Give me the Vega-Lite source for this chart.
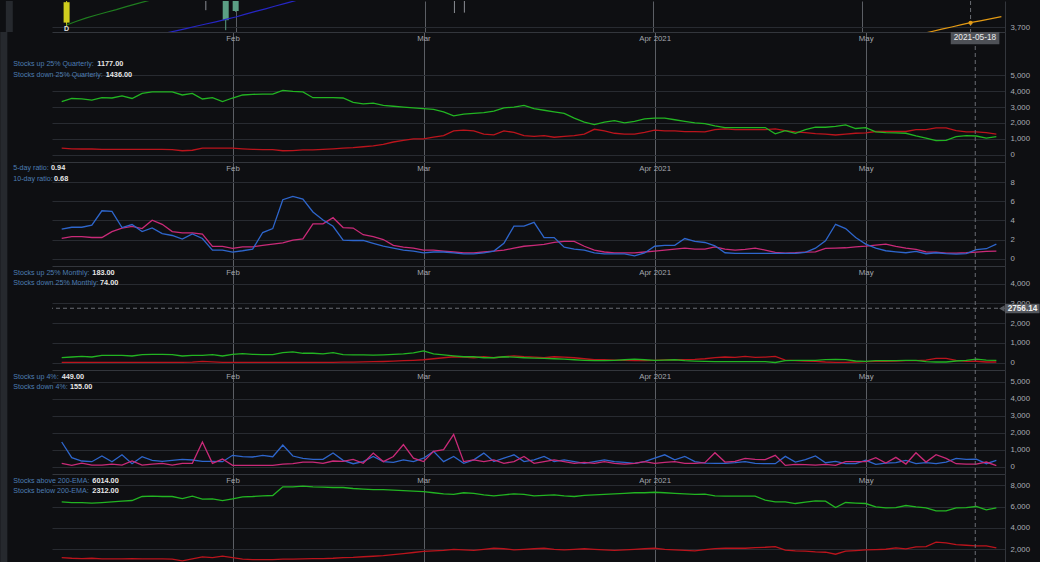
{
"$schema":"https://vega.github.io/schema/vega-lite/v6.json",
"background":"#0e0f12",
"padding":0,
"spacing":0,
"bounds":"flush",
"config":{"view":{"stroke":null},"font":"Liberation Sans","axis":{"labelOverlap":false,"labelBound":false}},
"datasets":{
"candles":[{"i":0,"o":3711,"c":3762,"l":3702,"h":3800,"k":"y"},{"i":14,"o":3770,"c":3790,"l":3742,"h":3800,"k":"g"},{"i":16,"o":3717,"c":3800,"l":3692,"h":3810,"k":"t"},{"i":17,"o":3740,"c":3800,"l":3738,"h":3810,"k":"t"},{"i":39,"o":3770,"c":3790,"l":3735,"h":3800,"k":"g"},{"i":40,"o":3770,"c":3790,"l":3736,"h":3800,"k":"g"}],
"q":[{"i":0,"a":3340,"b":420},{"i":1,"a":3540,"b":370},{"i":2,"a":3510,"b":360},{"i":3,"a":3440,"b":360},{"i":4,"a":3590,"b":340},{"i":5,"a":3570,"b":330},{"i":6,"a":3700,"b":330},{"i":7,"a":3540,"b":330},{"i":8,"a":3860,"b":330},{"i":9,"a":3950,"b":330},{"i":10,"a":3950,"b":330},{"i":11,"a":3950,"b":320},{"i":12,"a":3760,"b":250},{"i":13,"a":3860,"b":280},{"i":14,"a":3510,"b":410},{"i":15,"a":3590,"b":410},{"i":16,"a":3350,"b":410},{"i":17,"a":3570,"b":410},{"i":18,"a":3760,"b":370},{"i":19,"a":3800,"b":340},{"i":20,"a":3820,"b":320},{"i":21,"a":3820,"b":320},{"i":22,"a":4050,"b":250},{"i":23,"a":3990,"b":260},{"i":24,"a":3950,"b":300},{"i":25,"a":3590,"b":300},{"i":26,"a":3590,"b":330},{"i":27,"a":3590,"b":370},{"i":28,"a":3570,"b":420},{"i":29,"a":3300,"b":450},{"i":30,"a":3200,"b":500},{"i":31,"a":3250,"b":550},{"i":32,"a":3100,"b":650},{"i":33,"a":3050,"b":800},{"i":34,"a":3000,"b":900},{"i":35,"a":2950,"b":1000},{"i":36,"a":2900,"b":1000},{"i":37,"a":2850,"b":1100},{"i":38,"a":2700,"b":1200},{"i":39,"a":2450,"b":1500},{"i":40,"a":2550,"b":1550},{"i":41,"a":2600,"b":1500},{"i":42,"a":2650,"b":1300},{"i":43,"a":2750,"b":1250},{"i":44,"a":2950,"b":1500},{"i":45,"a":3000,"b":1400},{"i":46,"a":3100,"b":1200},{"i":47,"a":2900,"b":1150},{"i":48,"a":2800,"b":1200},{"i":49,"a":2700,"b":1100},{"i":50,"a":2600,"b":1150},{"i":51,"a":2300,"b":1200},{"i":52,"a":2050,"b":1300},{"i":53,"a":1900,"b":1600},{"i":54,"a":2050,"b":1500},{"i":55,"a":2150,"b":1350},{"i":56,"a":2000,"b":1300},{"i":57,"a":2100,"b":1300},{"i":58,"a":2250,"b":1400},{"i":59,"a":2300,"b":1550},{"i":60,"a":2300,"b":1500},{"i":61,"a":2200,"b":1500},{"i":62,"a":2100,"b":1450},{"i":63,"a":2000,"b":1450},{"i":64,"a":1960,"b":1440},{"i":65,"a":1820,"b":1580},{"i":66,"a":1710,"b":1620},{"i":67,"a":1710,"b":1580},{"i":68,"a":1710,"b":1580},{"i":69,"a":1710,"b":1580},{"i":70,"a":1710,"b":1580},{"i":71,"a":1310,"b":1620},{"i":72,"a":1520,"b":1520},{"i":73,"a":1350,"b":1440},{"i":74,"a":1580,"b":1390},{"i":75,"a":1730,"b":1330},{"i":76,"a":1730,"b":1290},{"i":77,"a":1790,"b":1240},{"i":78,"a":1880,"b":1290},{"i":79,"a":1650,"b":1350},{"i":80,"a":1710,"b":1370},{"i":81,"a":1440,"b":1460},{"i":82,"a":1390,"b":1460},{"i":83,"a":1370,"b":1460},{"i":84,"a":1350,"b":1460},{"i":85,"a":1180,"b":1580},{"i":86,"a":1040,"b":1580},{"i":87,"a":890,"b":1690},{"i":88,"a":900,"b":1690},{"i":89,"a":1140,"b":1520},{"i":90,"a":1200,"b":1440},{"i":91,"a":1177,"b":1436},{"i":92,"a":1050,"b":1390},{"i":93,"a":1140,"b":1300}],
"r":[{"i":0,"a":3.08,"b":2.11},{"i":1,"a":3.28,"b":2.31},{"i":2,"a":3.28,"b":2.31},{"i":3,"a":3.49,"b":2.21},{"i":4,"a":5.0,"b":2.21},{"i":5,"a":4.94,"b":2.83},{"i":6,"a":3.25,"b":3.18},{"i":7,"a":3.56,"b":3.38},{"i":8,"a":2.83,"b":3.14},{"i":9,"a":3.21,"b":4.01},{"i":10,"a":2.62,"b":3.59},{"i":11,"a":2.42,"b":2.83},{"i":12,"a":2.04,"b":2.69},{"i":13,"a":2.59,"b":2.69},{"i":14,"a":2.11,"b":2.56},{"i":15,"a":0.9,"b":1.28},{"i":16,"a":0.9,"b":1.28},{"i":17,"a":0.69,"b":1.07},{"i":18,"a":0.83,"b":1.24},{"i":19,"a":1.0,"b":1.24},{"i":20,"a":2.73,"b":1.38},{"i":21,"a":3.14,"b":1.52},{"i":22,"a":6.15,"b":1.66},{"i":23,"a":6.5,"b":1.93},{"i":24,"a":6.22,"b":2.07},{"i":25,"a":4.87,"b":3.63},{"i":26,"a":4.04,"b":3.63},{"i":27,"a":3.38,"b":4.28},{"i":28,"a":1.93,"b":3.25},{"i":29,"a":1.9,"b":3.2},{"i":30,"a":1.9,"b":2.5},{"i":31,"a":1.6,"b":2.3},{"i":32,"a":1.3,"b":2.0},{"i":33,"a":1.1,"b":1.4},{"i":34,"a":0.9,"b":1.2},{"i":35,"a":0.8,"b":1.1},{"i":36,"a":0.6,"b":0.9},{"i":37,"a":0.7,"b":0.9},{"i":38,"a":0.7,"b":0.8},{"i":39,"a":0.6,"b":0.7},{"i":40,"a":0.5,"b":0.6},{"i":41,"a":0.5,"b":0.6},{"i":42,"a":0.6,"b":0.7},{"i":43,"a":0.8,"b":0.8},{"i":44,"a":1.6,"b":0.9},{"i":45,"a":3.4,"b":1.1},{"i":46,"a":3.4,"b":1.3},{"i":47,"a":3.8,"b":1.4},{"i":48,"a":2.2,"b":1.5},{"i":49,"a":2.2,"b":1.7},{"i":50,"a":1.2,"b":1.8},{"i":51,"a":1.0,"b":1.8},{"i":52,"a":0.9,"b":1.3},{"i":53,"a":0.6,"b":0.9},{"i":54,"a":0.5,"b":0.7},{"i":55,"a":0.5,"b":0.6},{"i":56,"a":0.5,"b":0.6},{"i":57,"a":0.3,"b":0.6},{"i":58,"a":0.6,"b":0.7},{"i":59,"a":1.3,"b":0.8},{"i":60,"a":1.4,"b":0.9},{"i":61,"a":1.4,"b":1.0},{"i":62,"a":2.1,"b":1.1},{"i":63,"a":1.8,"b":1.0},{"i":64,"a":1.69,"b":1.0},{"i":65,"a":1.35,"b":1.24},{"i":66,"a":0.62,"b":1.0},{"i":67,"a":0.55,"b":0.9},{"i":68,"a":0.55,"b":0.97},{"i":69,"a":0.55,"b":1.1},{"i":70,"a":0.55,"b":0.9},{"i":71,"a":0.55,"b":0.66},{"i":72,"a":0.55,"b":0.59},{"i":73,"a":0.55,"b":0.62},{"i":74,"a":0.66,"b":0.69},{"i":75,"a":1.1,"b":0.72},{"i":76,"a":1.87,"b":1.07},{"i":77,"a":3.59,"b":1.1},{"i":78,"a":3.14,"b":1.14},{"i":79,"a":2.21,"b":1.24},{"i":80,"a":1.52,"b":1.31},{"i":81,"a":1.1,"b":1.42},{"i":82,"a":0.83,"b":1.52},{"i":83,"a":0.72,"b":1.28},{"i":84,"a":0.62,"b":1.1},{"i":85,"a":0.76,"b":0.97},{"i":86,"a":0.52,"b":0.72},{"i":87,"a":0.62,"b":0.69},{"i":88,"a":0.52,"b":0.59},{"i":89,"a":0.48,"b":0.59},{"i":90,"a":0.52,"b":0.62},{"i":91,"a":0.94,"b":0.68},{"i":92,"a":1.04,"b":0.76},{"i":93,"a":1.52,"b":0.8}],
"m":[{"i":0,"a":254,"b":20},{"i":1,"a":288,"b":20},{"i":2,"a":322,"b":20},{"i":3,"a":288,"b":20},{"i":4,"a":375,"b":20},{"i":5,"a":375,"b":20},{"i":6,"a":375,"b":20},{"i":7,"a":339,"b":20},{"i":8,"a":409,"b":20},{"i":9,"a":426,"b":20},{"i":10,"a":426,"b":20},{"i":11,"a":409,"b":20},{"i":12,"a":339,"b":20},{"i":13,"a":375,"b":30},{"i":14,"a":375,"b":70},{"i":15,"a":409,"b":40},{"i":16,"a":339,"b":20},{"i":17,"a":426,"b":20},{"i":18,"a":460,"b":20},{"i":19,"a":426,"b":20},{"i":20,"a":409,"b":20},{"i":21,"a":409,"b":20},{"i":22,"a":510,"b":20},{"i":23,"a":543,"b":20},{"i":24,"a":477,"b":20},{"i":25,"a":477,"b":20},{"i":26,"a":443,"b":20},{"i":27,"a":510,"b":20},{"i":28,"a":409,"b":25},{"i":29,"a":400,"b":30},{"i":30,"a":400,"b":40},{"i":31,"a":380,"b":50},{"i":32,"a":400,"b":60},{"i":33,"a":420,"b":80},{"i":34,"a":450,"b":100},{"i":35,"a":500,"b":120},{"i":36,"a":600,"b":150},{"i":37,"a":450,"b":200},{"i":38,"a":400,"b":250},{"i":39,"a":350,"b":300},{"i":40,"a":300,"b":280},{"i":41,"a":300,"b":250},{"i":42,"a":250,"b":300},{"i":43,"a":250,"b":250},{"i":44,"a":300,"b":300},{"i":45,"a":280,"b":350},{"i":46,"a":250,"b":300},{"i":47,"a":230,"b":280},{"i":48,"a":220,"b":250},{"i":49,"a":200,"b":300},{"i":50,"a":180,"b":280},{"i":51,"a":150,"b":250},{"i":52,"a":120,"b":200},{"i":53,"a":100,"b":150},{"i":54,"a":100,"b":150},{"i":55,"a":120,"b":130},{"i":56,"a":150,"b":120},{"i":57,"a":180,"b":100},{"i":58,"a":150,"b":100},{"i":59,"a":120,"b":120},{"i":60,"a":130,"b":140},{"i":61,"a":150,"b":150},{"i":62,"a":100,"b":160},{"i":63,"a":80,"b":170},{"i":64,"a":68,"b":200},{"i":65,"a":51,"b":260},{"i":66,"a":51,"b":288},{"i":67,"a":51,"b":271},{"i":68,"a":51,"b":322},{"i":69,"a":51,"b":271},{"i":70,"a":51,"b":280},{"i":71,"a":10,"b":322},{"i":72,"a":102,"b":135},{"i":73,"a":118,"b":102},{"i":74,"a":118,"b":85},{"i":75,"a":118,"b":68},{"i":76,"a":152,"b":35},{"i":77,"a":170,"b":17},{"i":78,"a":152,"b":17},{"i":79,"a":85,"b":35},{"i":80,"a":68,"b":51},{"i":81,"a":102,"b":68},{"i":82,"a":102,"b":68},{"i":83,"a":102,"b":85},{"i":84,"a":118,"b":102},{"i":85,"a":118,"b":102},{"i":86,"a":51,"b":135},{"i":87,"a":35,"b":220},{"i":88,"a":35,"b":220},{"i":89,"a":85,"b":118},{"i":90,"a":118,"b":68},{"i":91,"a":183,"b":74},{"i":92,"a":135,"b":35},{"i":93,"a":118,"b":35}],
"f":[{"i":0,"a":1453,"b":196},{"i":1,"a":529,"b":78},{"i":2,"a":335,"b":215},{"i":3,"a":294,"b":98},{"i":4,"a":629,"b":98},{"i":5,"a":294,"b":157},{"i":6,"a":706,"b":98},{"i":7,"a":176,"b":335},{"i":8,"a":588,"b":98},{"i":9,"a":376,"b":157},{"i":10,"a":318,"b":196},{"i":11,"a":376,"b":98},{"i":12,"a":435,"b":196},{"i":13,"a":394,"b":196},{"i":14,"a":318,"b":1453},{"i":15,"a":318,"b":196},{"i":16,"a":294,"b":451},{"i":17,"a":670,"b":78},{"i":18,"a":588,"b":78},{"i":19,"a":570,"b":78},{"i":20,"a":670,"b":78},{"i":21,"a":588,"b":78},{"i":22,"a":1276,"b":157},{"i":23,"a":629,"b":176},{"i":24,"a":494,"b":274},{"i":25,"a":435,"b":274},{"i":26,"a":435,"b":196},{"i":27,"a":806,"b":335},{"i":28,"a":376,"b":318},{"i":29,"a":176,"b":430},{"i":30,"a":300,"b":200},{"i":31,"a":600,"b":800},{"i":32,"a":300,"b":300},{"i":33,"a":250,"b":600},{"i":34,"a":400,"b":1300},{"i":35,"a":300,"b":500},{"i":36,"a":500,"b":300},{"i":37,"a":900,"b":900},{"i":38,"a":300,"b":1000},{"i":39,"a":600,"b":1900},{"i":40,"a":200,"b":300},{"i":41,"a":400,"b":400},{"i":42,"a":800,"b":300},{"i":43,"a":300,"b":400},{"i":44,"a":500,"b":200},{"i":45,"a":700,"b":300},{"i":46,"a":300,"b":600},{"i":47,"a":400,"b":200},{"i":48,"a":600,"b":300},{"i":49,"a":300,"b":400},{"i":50,"a":400,"b":300},{"i":51,"a":300,"b":200},{"i":52,"a":200,"b":250},{"i":53,"a":300,"b":200},{"i":54,"a":400,"b":300},{"i":55,"a":300,"b":200},{"i":56,"a":250,"b":150},{"i":57,"a":200,"b":200},{"i":58,"a":300,"b":300},{"i":59,"a":500,"b":200},{"i":60,"a":700,"b":250},{"i":61,"a":400,"b":300},{"i":62,"a":600,"b":200},{"i":63,"a":300,"b":200},{"i":64,"a":215,"b":235},{"i":65,"a":196,"b":824},{"i":66,"a":196,"b":274},{"i":67,"a":235,"b":318},{"i":68,"a":294,"b":494},{"i":69,"a":196,"b":435},{"i":70,"a":176,"b":412},{"i":71,"a":176,"b":670},{"i":72,"a":608,"b":78},{"i":73,"a":274,"b":137},{"i":74,"a":412,"b":118},{"i":75,"a":629,"b":98},{"i":76,"a":235,"b":137},{"i":77,"a":318,"b":78},{"i":78,"a":176,"b":294},{"i":79,"a":176,"b":294},{"i":80,"a":376,"b":294},{"i":81,"a":137,"b":529},{"i":82,"a":215,"b":215},{"i":83,"a":235,"b":549},{"i":84,"a":376,"b":157},{"i":85,"a":176,"b":824},{"i":86,"a":235,"b":274},{"i":87,"a":176,"b":706},{"i":88,"a":274,"b":494},{"i":89,"a":494,"b":176},{"i":90,"a":435,"b":157},{"i":91,"a":449,"b":155},{"i":92,"a":176,"b":274},{"i":93,"a":376,"b":59}],
"e":[{"i":0,"a":6451,"b":1221},{"i":1,"a":6385,"b":1160},{"i":2,"a":6385,"b":1127},{"i":3,"a":6329,"b":1160},{"i":4,"a":6385,"b":1099},{"i":5,"a":6451,"b":1099},{"i":6,"a":6517,"b":1099},{"i":7,"a":6573,"b":1127},{"i":8,"a":6949,"b":1099},{"i":9,"a":6986,"b":1099},{"i":10,"a":6949,"b":1099},{"i":11,"a":6949,"b":1070},{"i":12,"a":6761,"b":911},{"i":13,"a":6986,"b":1099},{"i":14,"a":6705,"b":1286},{"i":15,"a":6733,"b":1221},{"i":16,"a":6573,"b":1352},{"i":17,"a":6733,"b":1221},{"i":18,"a":6920,"b":1070},{"i":19,"a":6949,"b":1033},{"i":20,"a":7014,"b":1033},{"i":21,"a":7043,"b":1033},{"i":22,"a":7859,"b":1070},{"i":23,"a":7859,"b":1070},{"i":24,"a":7925,"b":1099},{"i":25,"a":7859,"b":1127},{"i":26,"a":7831,"b":1127},{"i":27,"a":7794,"b":1160},{"i":28,"a":7794,"b":1221},{"i":29,"a":7700,"b":1250},{"i":30,"a":7650,"b":1300},{"i":31,"a":7600,"b":1350},{"i":32,"a":7600,"b":1400},{"i":33,"a":7550,"b":1500},{"i":34,"a":7500,"b":1600},{"i":35,"a":7450,"b":1700},{"i":36,"a":7400,"b":1800},{"i":37,"a":7300,"b":1850},{"i":38,"a":7200,"b":1900},{"i":39,"a":7150,"b":2000},{"i":40,"a":7300,"b":1950},{"i":41,"a":7250,"b":1900},{"i":42,"a":7100,"b":2000},{"i":43,"a":7000,"b":2100},{"i":44,"a":7100,"b":2050},{"i":45,"a":7200,"b":1950},{"i":46,"a":7150,"b":2000},{"i":47,"a":7000,"b":2050},{"i":48,"a":7050,"b":2100},{"i":49,"a":7100,"b":2000},{"i":50,"a":7000,"b":1950},{"i":51,"a":6950,"b":2000},{"i":52,"a":7050,"b":2050},{"i":53,"a":7100,"b":2000},{"i":54,"a":7150,"b":1950},{"i":55,"a":7200,"b":1900},{"i":56,"a":7250,"b":1950},{"i":57,"a":7300,"b":2000},{"i":58,"a":7300,"b":2050},{"i":59,"a":7350,"b":2100},{"i":60,"a":7300,"b":2000},{"i":61,"a":7250,"b":1950},{"i":62,"a":7200,"b":1900},{"i":63,"a":7150,"b":1850},{"i":64,"a":7173,"b":1970},{"i":65,"a":7014,"b":2070},{"i":66,"a":6986,"b":2100},{"i":67,"a":6986,"b":2100},{"i":68,"a":6986,"b":2100},{"i":69,"a":6986,"b":2160},{"i":70,"a":6611,"b":2191},{"i":71,"a":6451,"b":2254},{"i":72,"a":6451,"b":1913},{"i":73,"a":6292,"b":1850},{"i":74,"a":6423,"b":1820},{"i":75,"a":6545,"b":1756},{"i":76,"a":6517,"b":1725},{"i":77,"a":5916,"b":1537},{"i":78,"a":6385,"b":1820},{"i":79,"a":6329,"b":1881},{"i":80,"a":6292,"b":1944},{"i":81,"a":5981,"b":1976},{"i":82,"a":5888,"b":2007},{"i":83,"a":5916,"b":2129},{"i":84,"a":6104,"b":2035},{"i":85,"a":5981,"b":2225},{"i":86,"a":5888,"b":2254},{"i":87,"a":5606,"b":2664},{"i":88,"a":5606,"b":2600},{"i":89,"a":5888,"b":2444},{"i":90,"a":5916,"b":2381},{"i":91,"a":6014,"b":2312},{"i":92,"a":5700,"b":2319},{"i":93,"a":5888,"b":2129}]
},
"vconcat":[
{"width":953,"height":31,
 "layer":[
  {"data":{"values":[{}]},"mark":{"type":"rect","color":"#26292e"},"encoding":{"x":{"datum":-6.11,"type":"quantitative","scale":{"domain":[-0.965,93.86],"nice":false,"zero":false}},"x2":{"datum":-5.41},"y":{"datum":3687.5,"type":"quantitative","scale":{"domain":[3687.5,3765],"nice":false,"zero":false}},"y2":{"datum":3765}}},
  {"data":{"name":"candles"},"mark":{"type":"rule","clip":true,"strokeWidth":1},"encoding":{"x":{"field":"i","type":"quantitative","scale":{"domain":[-0.965,93.86],"nice":false,"zero":false},"axis":{"orient":"top","values":[17,36,59,80],"tickCount":20,"labels":false,"grid":true,"gridColor":"#5b5e64","domain":false,"ticks":false,"title":null}},"y":{"field":"l","type":"quantitative","scale":{"domain":[3687.5,3765],"nice":false,"zero":false},"axis":{"orient":"right","values":[3700],"tickCount":20,"format":",d","grid":true,"gridColor":"#282b31","domain":true,"domainColor":"#33363c","ticks":false,"tickSize":0,"labelPadding":5,"labelOverlap":false,"labelColor":"#a9acb2","labelFontSize":7.8,"title":null}},"y2":{"field":"h"},"color":{"field":"k","type":"nominal","scale":{"domain":["y","g","t"],"range":["#cfcd1e","#8a8d93","#5b9f84"]},"legend":null}}},
  {"data":{"name":"candles"},"mark":{"type":"bar","clip":true,"size":6},"encoding":{"x":{"field":"i","type":"quantitative","scale":{"domain":[-0.965,93.86],"nice":false,"zero":false}},"y":{"field":"o","type":"quantitative","scale":{"domain":[3687.5,3765],"nice":false,"zero":false}},"y2":{"field":"c"},"color":{"field":"k","type":"nominal","scale":{"domain":["y","g","t"],"range":["#cfcd1e","#8a8d93","#5b9f84"]},"legend":null}}},
  {"data":{"values":[{"i":0,"v":3705},{"i":1,"v":3714.5},{"i":2,"v":3722.8},{"i":3,"v":3730},{"i":4,"v":3736.8},{"i":5,"v":3743.5},{"i":6,"v":3751},{"i":7,"v":3757.8},{"i":8,"v":3764.5},{"i":9,"v":3771},{"i":10,"v":3777}]},"mark":{"type":"line","clip":true,"color":"#1f7d1f","strokeWidth":1.2},"encoding":{"x":{"field":"i","type":"quantitative","scale":{"domain":[-0.965,93.86],"nice":false,"zero":false}},"y":{"field":"v","type":"quantitative","scale":{"domain":[3687.5,3765],"nice":false,"zero":false}}}},
  {"data":{"values":[{"i":10,"v":3685},{"i":11,"v":3690.5},{"i":12,"v":3696},{"i":13,"v":3701.8},{"i":14,"v":3707.5},{"i":15,"v":3713},{"i":16,"v":3719},{"i":17,"v":3725},{"i":18,"v":3732},{"i":19,"v":3739},{"i":20,"v":3745.5},{"i":21,"v":3752.5},{"i":22,"v":3759},{"i":23,"v":3766},{"i":24,"v":3773}]},"mark":{"type":"line","clip":true,"color":"#2626c4","strokeWidth":1.2},"encoding":{"x":{"field":"i","type":"quantitative","scale":{"domain":[-0.965,93.86],"nice":false,"zero":false}},"y":{"field":"v","type":"quantitative","scale":{"domain":[3687.5,3765],"nice":false,"zero":false}}}},
  {"data":{"values":[{"i":86,"v":3683},{"i":87,"v":3688.75},{"i":88,"v":3694.5},{"i":89,"v":3700},{"i":90,"v":3706},{"i":91,"v":3711.5},{"i":92,"v":3716},{"i":93,"v":3721},{"i":94,"v":3726}]},"mark":{"type":"line","clip":true,"color":"#e39a14","strokeWidth":1.2},"encoding":{"x":{"field":"i","type":"quantitative","scale":{"domain":[-0.965,93.86],"nice":false,"zero":false}},"y":{"field":"v","type":"quantitative","scale":{"domain":[3687.5,3765],"nice":false,"zero":false}}}},
  {"data":{"values":[{}]},"mark":{"type":"rule","color":"#6b6e74","strokeDash":[4,3],"strokeWidth":1},"encoding":{"x":{"datum":90.9,"type":"quantitative","scale":{"domain":[-0.965,93.86],"nice":false,"zero":false}}}},
  {"data":{"values":[{}]},"mark":{"type":"point","filled":true,"color":"#e39a14","size":18,"opacity":1},"encoding":{"x":{"datum":90.9,"type":"quantitative","scale":{"domain":[-0.965,93.86],"nice":false,"zero":false}},"y":{"datum":3710.5,"type":"quantitative","scale":{"domain":[3687.5,3765],"nice":false,"zero":false}}}},
  {"data":{"values":[{}]},"mark":{"type":"text","text":"D","fontSize":7,"fontWeight":"bold","color":"#e0e0e0","align":"center","baseline":"middle"},"encoding":{"x":{"datum":0,"type":"quantitative","scale":{"domain":[-0.965,93.86],"nice":false,"zero":false}},"y":{"datum":3694,"type":"quantitative","scale":{"domain":[3687.5,3765],"nice":false,"zero":false}}}}
 ]},
{"width":953,"height":130,"data":{"name":"q"},
 "layer":[
  {"data":{"values":[{}]},"mark":{"type":"rect","color":"#26292e"},"encoding":{"x":{"datum":-6.11,"type":"quantitative","scale":{"domain":[-0.965,93.86],"nice":false,"zero":false}},"x2":{"datum":-5.41},"y":{"datum":-460,"type":"quantitative","scale":{"domain":[-460,7727],"nice":false,"zero":false}},"y2":{"datum":7727}}},
  {"mark":{"type":"line","color":"#bb141c","strokeWidth":1.3},"encoding":{"x":{"field":"i","type":"quantitative","scale":{"domain":[-0.965,93.86],"nice":false,"zero":false},"axis":{"orient":"top","values":[17,36,59,80],"tickCount":20,"labelExpr":"datum.value == 17 ? 'Feb' : datum.value == 36 ? 'Mar' : datum.value == 59 ? 'Apr 2021' : 'May'","grid":true,"gridColor":"#5b5e64","domain":true,"domainColor":"#33363c","ticks":false,"tickSize":0,"labelPadding":-6,"labelBaseline":"middle","labelFlush":false,"labelOverlap":false,"labelColor":"#a3a6ac","labelFontSize":7.8,"title":null}},"y":{"field":"b","type":"quantitative","scale":{"domain":[-460,7727],"nice":false,"zero":false},"axis":{"orient":"right","values":[0,1000,2000,3000,4000,5000],"tickCount":20,"format":",d","grid":true,"gridColor":"#282b31","domain":true,"domainColor":"#33363c","ticks":false,"tickSize":0,"labelPadding":5,"labelOverlap":false,"labelColor":"#a9acb2","labelFontSize":7.8,"title":null}}}},
  {"mark":{"type":"line","color":"#22b422","strokeWidth":1.3},"encoding":{"x":{"field":"i","type":"quantitative","scale":{"domain":[-0.965,93.86],"nice":false,"zero":false}},"y":{"field":"a","type":"quantitative","scale":{"domain":[-460,7727],"nice":false,"zero":false}}}},
  {"data":{"values":[{}]},"mark":{"type":"rule","color":"#6b6e74","strokeDash":[4,3],"strokeWidth":1},"encoding":{"x":{"datum":90.9,"type":"quantitative","scale":{"domain":[-0.965,93.86],"nice":false,"zero":false}}}},
  {"data":{"values":[{}]},"mark":{"type":"text","text":"Stocks up 25% Quarterly:","align":"left","baseline":"middle","fontSize":7.1,"color":"#4d7db3"},"encoding":{"x":{"datum":-4.816,"type":"quantitative","scale":{"domain":[-0.965,93.86],"nice":false,"zero":false}},"y":{"datum":5712,"type":"quantitative","scale":{"domain":[-460,7727],"nice":false,"zero":false}}}},
  {"data":{"values":[{}]},"mark":{"type":"text","text":"1177.00","align":"left","baseline":"middle","fontSize":7.3,"fontWeight":"bold","color":"#e6e6e6"},"encoding":{"x":{"datum":3.54,"type":"quantitative","scale":{"domain":[-0.965,93.86],"nice":false,"zero":false}},"y":{"datum":5712,"type":"quantitative","scale":{"domain":[-460,7727],"nice":false,"zero":false}}}},
  {"data":{"values":[{}]},"mark":{"type":"text","text":"Stocks down 25% Quarterly:","align":"left","baseline":"middle","fontSize":7.1,"color":"#4d7db3"},"encoding":{"x":{"datum":-4.816,"type":"quantitative","scale":{"domain":[-0.965,93.86],"nice":false,"zero":false}},"y":{"datum":5019,"type":"quantitative","scale":{"domain":[-460,7727],"nice":false,"zero":false}}}},
  {"data":{"values":[{}]},"mark":{"type":"text","text":"1436.00","align":"left","baseline":"middle","fontSize":7.3,"fontWeight":"bold","color":"#e6e6e6"},"encoding":{"x":{"datum":4.38,"type":"quantitative","scale":{"domain":[-0.965,93.86],"nice":false,"zero":false}},"y":{"datum":5019,"type":"quantitative","scale":{"domain":[-460,7727],"nice":false,"zero":false}}}},
  {"data":{"values":[{}]},"mark":{"type":"rect","color":"#4e5157"},"encoding":{"x":{"datum":88.46,"type":"quantitative","scale":{"domain":[-0.965,93.86],"nice":false,"zero":false}},"x2":{"datum":93.3},"y":{"datum":6952,"type":"quantitative","scale":{"domain":[-460,7727],"nice":false,"zero":false}},"y2":{"datum":7727}}},
  {"data":{"values":[{}]},"mark":{"type":"text","text":"2021-05-18","align":"center","baseline":"middle","fontSize":8.3,"color":"#ececec"},"encoding":{"x":{"datum":90.87,"type":"quantitative","scale":{"domain":[-0.965,93.86],"nice":false,"zero":false}},"y":{"datum":7336,"type":"quantitative","scale":{"domain":[-460,7727],"nice":false,"zero":false}}}}
 ]},
{"width":953,"height":104,"data":{"name":"r"},
 "layer":[
  {"data":{"values":[{}]},"mark":{"type":"rect","color":"#26292e"},"encoding":{"x":{"datum":-6.11,"type":"quantitative","scale":{"domain":[-0.965,93.86],"nice":false,"zero":false}},"x2":{"datum":-5.41},"y":{"datum":-0.761,"type":"quantitative","scale":{"domain":[-0.761,10.086],"nice":false,"zero":false}},"y2":{"datum":10.086}}},
  {"mark":{"type":"line","color":"#c92a78","strokeWidth":1.3},"encoding":{"x":{"field":"i","type":"quantitative","scale":{"domain":[-0.965,93.86],"nice":false,"zero":false},"axis":{"orient":"top","values":[17,36,59,80],"tickCount":20,"labelExpr":"datum.value == 17 ? 'Feb' : datum.value == 36 ? 'Mar' : datum.value == 59 ? 'Apr 2021' : 'May'","grid":true,"gridColor":"#5b5e64","domain":true,"domainColor":"#33363c","ticks":false,"tickSize":0,"labelPadding":-6,"labelBaseline":"middle","labelFlush":false,"labelOverlap":false,"labelColor":"#a3a6ac","labelFontSize":7.8,"title":null}},"y":{"field":"b","type":"quantitative","scale":{"domain":[-0.761,10.086],"nice":false,"zero":false},"axis":{"orient":"right","values":[0,2,4,6,8],"tickCount":20,"format":"d","grid":true,"gridColor":"#282b31","domain":true,"domainColor":"#33363c","ticks":false,"tickSize":0,"labelPadding":5,"labelOverlap":false,"labelColor":"#a9acb2","labelFontSize":7.8,"title":null}}}},
  {"mark":{"type":"line","color":"#2e66cc","strokeWidth":1.3},"encoding":{"x":{"field":"i","type":"quantitative","scale":{"domain":[-0.965,93.86],"nice":false,"zero":false}},"y":{"field":"a","type":"quantitative","scale":{"domain":[-0.761,10.086],"nice":false,"zero":false}}}},
  {"data":{"values":[{}]},"mark":{"type":"rule","color":"#6b6e74","strokeDash":[4,3],"strokeWidth":1},"encoding":{"x":{"datum":90.9,"type":"quantitative","scale":{"domain":[-0.965,93.86],"nice":false,"zero":false}}}},
  {"data":{"values":[{}]},"mark":{"type":"text","text":"5-day ratio:","align":"left","baseline":"middle","fontSize":7.1,"color":"#4d7db3"},"encoding":{"x":{"datum":-4.816,"type":"quantitative","scale":{"domain":[-0.965,93.86],"nice":false,"zero":false}},"y":{"datum":9.43,"type":"quantitative","scale":{"domain":[-0.761,10.086],"nice":false,"zero":false}}}},
  {"data":{"values":[{}]},"mark":{"type":"text","text":"0.94","align":"left","baseline":"middle","fontSize":7.3,"fontWeight":"bold","color":"#e6e6e6"},"encoding":{"x":{"datum":-1.065,"type":"quantitative","scale":{"domain":[-0.965,93.86],"nice":false,"zero":false}},"y":{"datum":9.43,"type":"quantitative","scale":{"domain":[-0.761,10.086],"nice":false,"zero":false}}}},
  {"data":{"values":[{}]},"mark":{"type":"text","text":"10-day ratio:","align":"left","baseline":"middle","fontSize":7.1,"color":"#4d7db3"},"encoding":{"x":{"datum":-4.816,"type":"quantitative","scale":{"domain":[-0.965,93.86],"nice":false,"zero":false}},"y":{"datum":8.34,"type":"quantitative","scale":{"domain":[-0.761,10.086],"nice":false,"zero":false}}}},
  {"data":{"values":[{}]},"mark":{"type":"text","text":"0.68","align":"left","baseline":"middle","fontSize":7.3,"fontWeight":"bold","color":"#e6e6e6"},"encoding":{"x":{"datum":-0.766,"type":"quantitative","scale":{"domain":[-0.965,93.86],"nice":false,"zero":false}},"y":{"datum":8.34,"type":"quantitative","scale":{"domain":[-0.761,10.086],"nice":false,"zero":false}}}}
 ]},
{"width":953,"height":104,"data":{"name":"m"},
 "layer":[
  {"data":{"values":[{}]},"mark":{"type":"rect","color":"#26292e"},"encoding":{"x":{"datum":-6.11,"type":"quantitative","scale":{"domain":[-0.965,93.86],"nice":false,"zero":false}},"x2":{"datum":-5.41},"y":{"datum":-370,"type":"quantitative","scale":{"domain":[-370,4896],"nice":false,"zero":false}},"y2":{"datum":4896}}},
  {"mark":{"type":"line","color":"#bb141c","strokeWidth":1.3},"encoding":{"x":{"field":"i","type":"quantitative","scale":{"domain":[-0.965,93.86],"nice":false,"zero":false},"axis":{"orient":"top","values":[17,36,59,80],"tickCount":20,"labelExpr":"datum.value == 17 ? 'Feb' : datum.value == 36 ? 'Mar' : datum.value == 59 ? 'Apr 2021' : 'May'","grid":true,"gridColor":"#5b5e64","domain":true,"domainColor":"#33363c","ticks":false,"tickSize":0,"labelPadding":-6,"labelBaseline":"middle","labelFlush":false,"labelOverlap":false,"labelColor":"#a3a6ac","labelFontSize":7.8,"title":null}},"y":{"field":"b","type":"quantitative","scale":{"domain":[-370,4896],"nice":false,"zero":false},"axis":{"orient":"right","values":[0,1000,2000,3000,4000],"tickCount":20,"format":",d","grid":true,"gridColor":"#282b31","domain":true,"domainColor":"#33363c","ticks":false,"tickSize":0,"labelPadding":5,"labelOverlap":false,"labelColor":"#a9acb2","labelFontSize":7.8,"title":null}}}},
  {"mark":{"type":"line","color":"#22b422","strokeWidth":1.3},"encoding":{"x":{"field":"i","type":"quantitative","scale":{"domain":[-0.965,93.86],"nice":false,"zero":false}},"y":{"field":"a","type":"quantitative","scale":{"domain":[-370,4896],"nice":false,"zero":false}}}},
  {"data":{"values":[{}]},"mark":{"type":"rule","color":"#6b6e74","strokeDash":[4,3],"strokeWidth":1},"encoding":{"x":{"datum":90.9,"type":"quantitative","scale":{"domain":[-0.965,93.86],"nice":false,"zero":false}}}},
  {"data":{"values":[{}]},"mark":{"type":"rule","color":"#6b6e74","strokeDash":[4,3],"strokeWidth":1},"encoding":{"y":{"datum":2756.14,"type":"quantitative","scale":{"domain":[-370,4896],"nice":false,"zero":false}}}},
  {"data":{"values":[{}]},"mark":{"type":"text","text":"Stocks up 25% Monthly:","align":"left","baseline":"middle","fontSize":7.1,"color":"#4d7db3"},"encoding":{"x":{"datum":-4.816,"type":"quantitative","scale":{"domain":[-0.965,93.86],"nice":false,"zero":false}},"y":{"datum":4557,"type":"quantitative","scale":{"domain":[-370,4896],"nice":false,"zero":false}}}},
  {"data":{"values":[{}]},"mark":{"type":"text","text":"183.00","align":"left","baseline":"middle","fontSize":7.3,"fontWeight":"bold","color":"#e6e6e6"},"encoding":{"x":{"datum":3.05,"type":"quantitative","scale":{"domain":[-0.965,93.86],"nice":false,"zero":false}},"y":{"datum":4557,"type":"quantitative","scale":{"domain":[-370,4896],"nice":false,"zero":false}}}},
  {"data":{"values":[{}]},"mark":{"type":"text","text":"Stocks down 25% Monthly:","align":"left","baseline":"middle","fontSize":7.1,"color":"#4d7db3"},"encoding":{"x":{"datum":-4.816,"type":"quantitative","scale":{"domain":[-0.965,93.86],"nice":false,"zero":false}},"y":{"datum":4051,"type":"quantitative","scale":{"domain":[-370,4896],"nice":false,"zero":false}}}},
  {"data":{"values":[{}]},"mark":{"type":"text","text":"74.00","align":"left","baseline":"middle","fontSize":7.3,"fontWeight":"bold","color":"#e6e6e6"},"encoding":{"x":{"datum":3.81,"type":"quantitative","scale":{"domain":[-0.965,93.86],"nice":false,"zero":false}},"y":{"datum":4051,"type":"quantitative","scale":{"domain":[-370,4896],"nice":false,"zero":false}}}},
  {"data":{"values":[{}]},"mark":{"type":"rect","color":"#55585e"},"encoding":{"x":{"datum":93.86,"type":"quantitative","scale":{"domain":[-0.965,93.86],"nice":false,"zero":false}},"x2":{"datum":97.3},"y":{"datum":2501,"type":"quantitative","scale":{"domain":[-370,4896],"nice":false,"zero":false}},"y2":{"datum":2987}}},
  {"data":{"values":[{}]},"mark":{"type":"point","shape":"triangle-left","filled":true,"color":"#55585e","size":40,"opacity":1},"encoding":{"x":{"datum":93.55,"type":"quantitative","scale":{"domain":[-0.965,93.86],"nice":false,"zero":false}},"y":{"datum":2744,"type":"quantitative","scale":{"domain":[-370,4896],"nice":false,"zero":false}}}},
  {"data":{"values":[{}]},"mark":{"type":"text","text":"2756.14","align":"center","baseline":"middle","fontSize":8.2,"fontWeight":"bold","color":"#f0f0f0"},"encoding":{"x":{"datum":95.6,"type":"quantitative","scale":{"domain":[-0.965,93.86],"nice":false,"zero":false}},"y":{"datum":2744,"type":"quantitative","scale":{"domain":[-370,4896],"nice":false,"zero":false}}}}
 ]},
{"width":953,"height":104,"data":{"name":"f"},
 "layer":[
  {"data":{"values":[{}]},"mark":{"type":"rect","color":"#26292e"},"encoding":{"x":{"datum":-6.11,"type":"quantitative","scale":{"domain":[-0.965,93.86],"nice":false,"zero":false}},"x2":{"datum":-5.41},"y":{"datum":-429,"type":"quantitative","scale":{"domain":[-429,5688],"nice":false,"zero":false}},"y2":{"datum":5688}}},
  {"mark":{"type":"line","color":"#2e66cc","strokeWidth":1.3},"encoding":{"x":{"field":"i","type":"quantitative","scale":{"domain":[-0.965,93.86],"nice":false,"zero":false},"axis":{"orient":"top","values":[17,36,59,80],"tickCount":20,"labelExpr":"datum.value == 17 ? 'Feb' : datum.value == 36 ? 'Mar' : datum.value == 59 ? 'Apr 2021' : 'May'","grid":true,"gridColor":"#5b5e64","domain":true,"domainColor":"#33363c","ticks":false,"tickSize":0,"labelPadding":-6,"labelBaseline":"middle","labelFlush":false,"labelOverlap":false,"labelColor":"#a3a6ac","labelFontSize":7.8,"title":null}},"y":{"field":"a","type":"quantitative","scale":{"domain":[-429,5688],"nice":false,"zero":false},"axis":{"orient":"right","values":[0,1000,2000,3000,4000,5000],"tickCount":20,"format":",d","grid":true,"gridColor":"#282b31","domain":true,"domainColor":"#33363c","ticks":false,"tickSize":0,"labelPadding":5,"labelOverlap":false,"labelColor":"#a9acb2","labelFontSize":7.8,"title":null}}}},
  {"mark":{"type":"line","color":"#c92a78","strokeWidth":1.3},"encoding":{"x":{"field":"i","type":"quantitative","scale":{"domain":[-0.965,93.86],"nice":false,"zero":false}},"y":{"field":"b","type":"quantitative","scale":{"domain":[-429,5688],"nice":false,"zero":false}}}},
  {"data":{"values":[{}]},"mark":{"type":"rule","color":"#6b6e74","strokeDash":[4,3],"strokeWidth":1},"encoding":{"x":{"datum":90.9,"type":"quantitative","scale":{"domain":[-0.965,93.86],"nice":false,"zero":false}}}},
  {"data":{"values":[{}]},"mark":{"type":"text","text":"Stocks up 4%:","align":"left","baseline":"middle","fontSize":7.1,"color":"#4d7db3"},"encoding":{"x":{"datum":-4.816,"type":"quantitative","scale":{"domain":[-0.965,93.86],"nice":false,"zero":false}},"y":{"datum":5276,"type":"quantitative","scale":{"domain":[-429,5688],"nice":false,"zero":false}}}},
  {"data":{"values":[{}]},"mark":{"type":"text","text":"449.00","align":"left","baseline":"middle","fontSize":7.3,"fontWeight":"bold","color":"#e6e6e6"},"encoding":{"x":{"datum":0,"type":"quantitative","scale":{"domain":[-0.965,93.86],"nice":false,"zero":false}},"y":{"datum":5276,"type":"quantitative","scale":{"domain":[-429,5688],"nice":false,"zero":false}}}},
  {"data":{"values":[{}]},"mark":{"type":"text","text":"Stocks down 4%:","align":"left","baseline":"middle","fontSize":7.1,"color":"#4d7db3"},"encoding":{"x":{"datum":-4.816,"type":"quantitative","scale":{"domain":[-0.965,93.86],"nice":false,"zero":false}},"y":{"datum":4706,"type":"quantitative","scale":{"domain":[-429,5688],"nice":false,"zero":false}}}},
  {"data":{"values":[{}]},"mark":{"type":"text","text":"155.00","align":"left","baseline":"middle","fontSize":7.3,"fontWeight":"bold","color":"#e6e6e6"},"encoding":{"x":{"datum":0.826,"type":"quantitative","scale":{"domain":[-0.965,93.86],"nice":false,"zero":false}},"y":{"datum":4706,"type":"quantitative","scale":{"domain":[-429,5688],"nice":false,"zero":false}}}}
 ]},
{"width":953,"height":89,"data":{"name":"e"},
 "layer":[
  {"data":{"values":[{}]},"mark":{"type":"rect","color":"#26292e"},"encoding":{"x":{"datum":-6.11,"type":"quantitative","scale":{"domain":[-0.965,93.86],"nice":false,"zero":false}},"x2":{"datum":-5.41},"y":{"datum":716,"type":"quantitative","scale":{"domain":[716,9059],"nice":false,"zero":false}},"y2":{"datum":9059}}},
  {"mark":{"type":"line","color":"#bb141c","strokeWidth":1.3},"encoding":{"x":{"field":"i","type":"quantitative","scale":{"domain":[-0.965,93.86],"nice":false,"zero":false},"axis":{"orient":"top","values":[17,36,59,80],"tickCount":20,"labelExpr":"datum.value == 17 ? 'Feb' : datum.value == 36 ? 'Mar' : datum.value == 59 ? 'Apr 2021' : 'May'","grid":true,"gridColor":"#5b5e64","domain":true,"domainColor":"#33363c","ticks":false,"tickSize":0,"labelPadding":-6,"labelBaseline":"middle","labelFlush":false,"labelOverlap":false,"labelColor":"#a3a6ac","labelFontSize":7.8,"title":null}},"y":{"field":"b","type":"quantitative","scale":{"domain":[716,9059],"nice":false,"zero":false},"axis":{"orient":"right","values":[2000,4000,6000,8000],"tickCount":20,"format":",d","grid":true,"gridColor":"#282b31","domain":true,"domainColor":"#33363c","ticks":false,"tickSize":0,"labelPadding":5,"labelOverlap":false,"labelColor":"#a9acb2","labelFontSize":7.8,"title":null}}}},
  {"mark":{"type":"line","color":"#22b422","strokeWidth":1.3},"encoding":{"x":{"field":"i","type":"quantitative","scale":{"domain":[-0.965,93.86],"nice":false,"zero":false}},"y":{"field":"a","type":"quantitative","scale":{"domain":[716,9059],"nice":false,"zero":false}}}},
  {"data":{"values":[{}]},"mark":{"type":"rule","color":"#6b6e74","strokeDash":[4,3],"strokeWidth":1},"encoding":{"x":{"datum":90.9,"type":"quantitative","scale":{"domain":[-0.965,93.86],"nice":false,"zero":false}}}},
  {"data":{"values":[{}]},"mark":{"type":"text","text":"Stocks above 200-EMA:","align":"left","baseline":"middle","fontSize":7.1,"color":"#4d7db3"},"encoding":{"x":{"datum":-4.816,"type":"quantitative","scale":{"domain":[-0.965,93.86],"nice":false,"zero":false}},"y":{"datum":8431,"type":"quantitative","scale":{"domain":[716,9059],"nice":false,"zero":false}}}},
  {"data":{"values":[{}]},"mark":{"type":"text","text":"6014.00","align":"left","baseline":"middle","fontSize":7.3,"fontWeight":"bold","color":"#e6e6e6"},"encoding":{"x":{"datum":3.05,"type":"quantitative","scale":{"domain":[-0.965,93.86],"nice":false,"zero":false}},"y":{"datum":8431,"type":"quantitative","scale":{"domain":[716,9059],"nice":false,"zero":false}}}},
  {"data":{"values":[{}]},"mark":{"type":"text","text":"Stocks below 200-EMA:","align":"left","baseline":"middle","fontSize":7.1,"color":"#4d7db3"},"encoding":{"x":{"datum":-4.816,"type":"quantitative","scale":{"domain":[-0.965,93.86],"nice":false,"zero":false}},"y":{"datum":7494,"type":"quantitative","scale":{"domain":[716,9059],"nice":false,"zero":false}}}},
  {"data":{"values":[{}]},"mark":{"type":"text","text":"2312.00","align":"left","baseline":"middle","fontSize":7.3,"fontWeight":"bold","color":"#e6e6e6"},"encoding":{"x":{"datum":3.05,"type":"quantitative","scale":{"domain":[-0.965,93.86],"nice":false,"zero":false}},"y":{"datum":7494,"type":"quantitative","scale":{"domain":[716,9059],"nice":false,"zero":false}}}}
 ]}
]
}
